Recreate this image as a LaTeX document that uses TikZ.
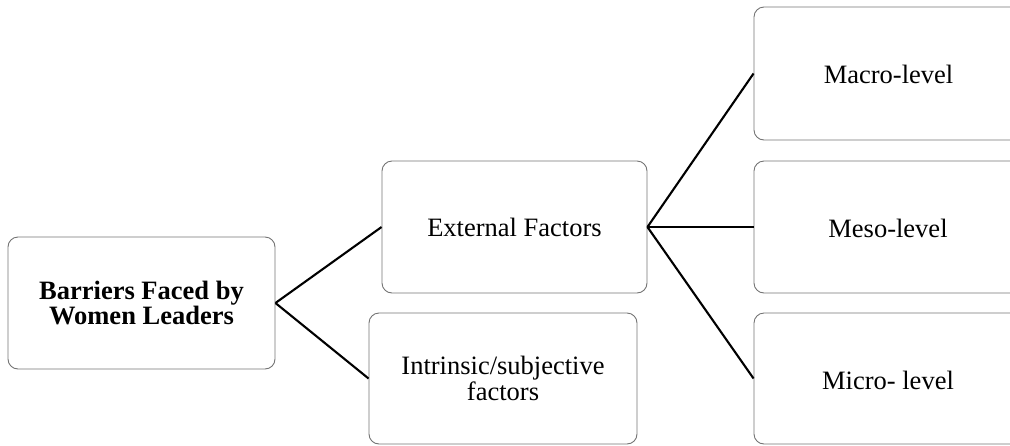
\documentclass[tikz,border=0pt]{standalone}
\usepackage{fontspec}
\setmainfont{Liberation Serif}
\begin{document}
\begin{tikzpicture}[x=1pt,y=-1pt,
  box/.style={draw=black!55, line width=0.9pt, rounded corners=10pt,
    minimum width=266pt, minimum height=131pt, inner sep=0pt,
    align=center, font=\fontsize{26.5}{26}\selectfont},
  label/.style={font=\fontsize{26.5}{26}\selectfont},
  link/.style={line width=2.1pt}]
\useasboundingbox (0,0) rectangle (1010,445);
\clip (0,0) rectangle (1010,445);
% root of the tree
\node[box, minimum width=267pt, minimum height=132pt, font=\fontsize{26.5}{23}\selectfont\bfseries]
  (root) at (141.5,303) {Barriers Faced by\\Women Leaders};
% second level
\node[box, minimum width=265pt, minimum height=132pt] (ext) at (514.5,227) {External Factors};
\node[box, minimum width=268pt] (intr) at (503,378.5) {Intrinsic/subjective\\factors};
% third level, running past the right edge
\node[box, minimum height=133pt] (macro) at (887,73.5) {};
\node[box, minimum height=132pt] (meso) at (887,227) {};
\node[box] (micro) at (887,378.5) {};
\node[label] (macrot) at (888.5,74) {Macro-level};
\node[label] (mesot) at (888,228) {Meso-level};
\node[label] (microt) at (888,380) {Micro- level};
% connectors
\draw[link] (root.east) -- (ext.west);
\draw[link] (root.east) -- (intr.west);
\draw[link] (ext.east) -- (macro.west);
\draw[link] (ext.east) -- (meso.west);
\draw[link] (ext.east) -- (micro.west);
\end{tikzpicture}
\end{document}
